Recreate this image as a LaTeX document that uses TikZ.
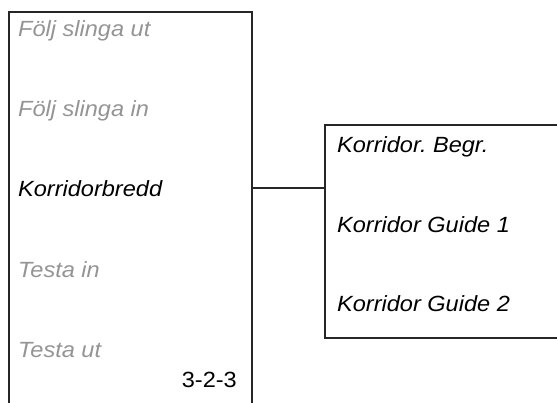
\documentclass[tikz,border=0pt]{standalone}
\usepackage{fontspec}
\setmainfont[FakeStretch=1.07]{Liberation Sans}
\begin{document}
\frenchspacing
\begin{tikzpicture}[x=1pt,y=1pt,
  item/.style={anchor=base west,inner sep=0pt,font=\fontsize{22}{26}\selectfont\itshape},
  dim/.style={text=black!42},
  frame/.style={draw=black!85,line width=1.1pt}]
\useasboundingbox (0,0) rectangle (557,-402);
% left box (open at bottom)
\coordinate (LB) at (9,-403);
\coordinate (LT) at (9,-12);
\coordinate (RT) at (252,-12);
\coordinate (RB) at (252,-403);
\draw[frame] (LB) -- (LT) -- (RT) -- (RB);
% right box (open at right)
\coordinate (R1) at (558,-125);
\coordinate (R2) at (325,-125);
\coordinate (R3) at (325,-338);
\coordinate (R4) at (558,-338);
\draw[frame] (R1) -- (R2) -- (R3) -- (R4);
% connector
\coordinate (cA) at (252,-188);
\coordinate (cB) at (325,-188);
\draw[frame] (cA) -- (cB);
% texts
\node[item,dim] (t1) at (18,-36) {Följ slinga ut};
\node[item,dim] (t2) at (18,-116) {Följ slinga in};
\node[item] (t3) at (18,-196) {Korridorbredd};
\node[item,dim] (t4) at (18,-277) {Testa in};
\node[item,dim] (t5) at (18,-357) {Testa ut};
\node[anchor=base east,inner sep=0pt,font=\fontsize{22}{26}\selectfont] (num) at (237,-387) {3-2-3};
\node[item] (r1) at (337,-152) {Korridor. Begr.};
\node[item] (r2) at (337,-232) {Korridor Guide 1};
\node[item] (r3) at (337,-311) {Korridor Guide 2};
\end{tikzpicture}
\end{document}
